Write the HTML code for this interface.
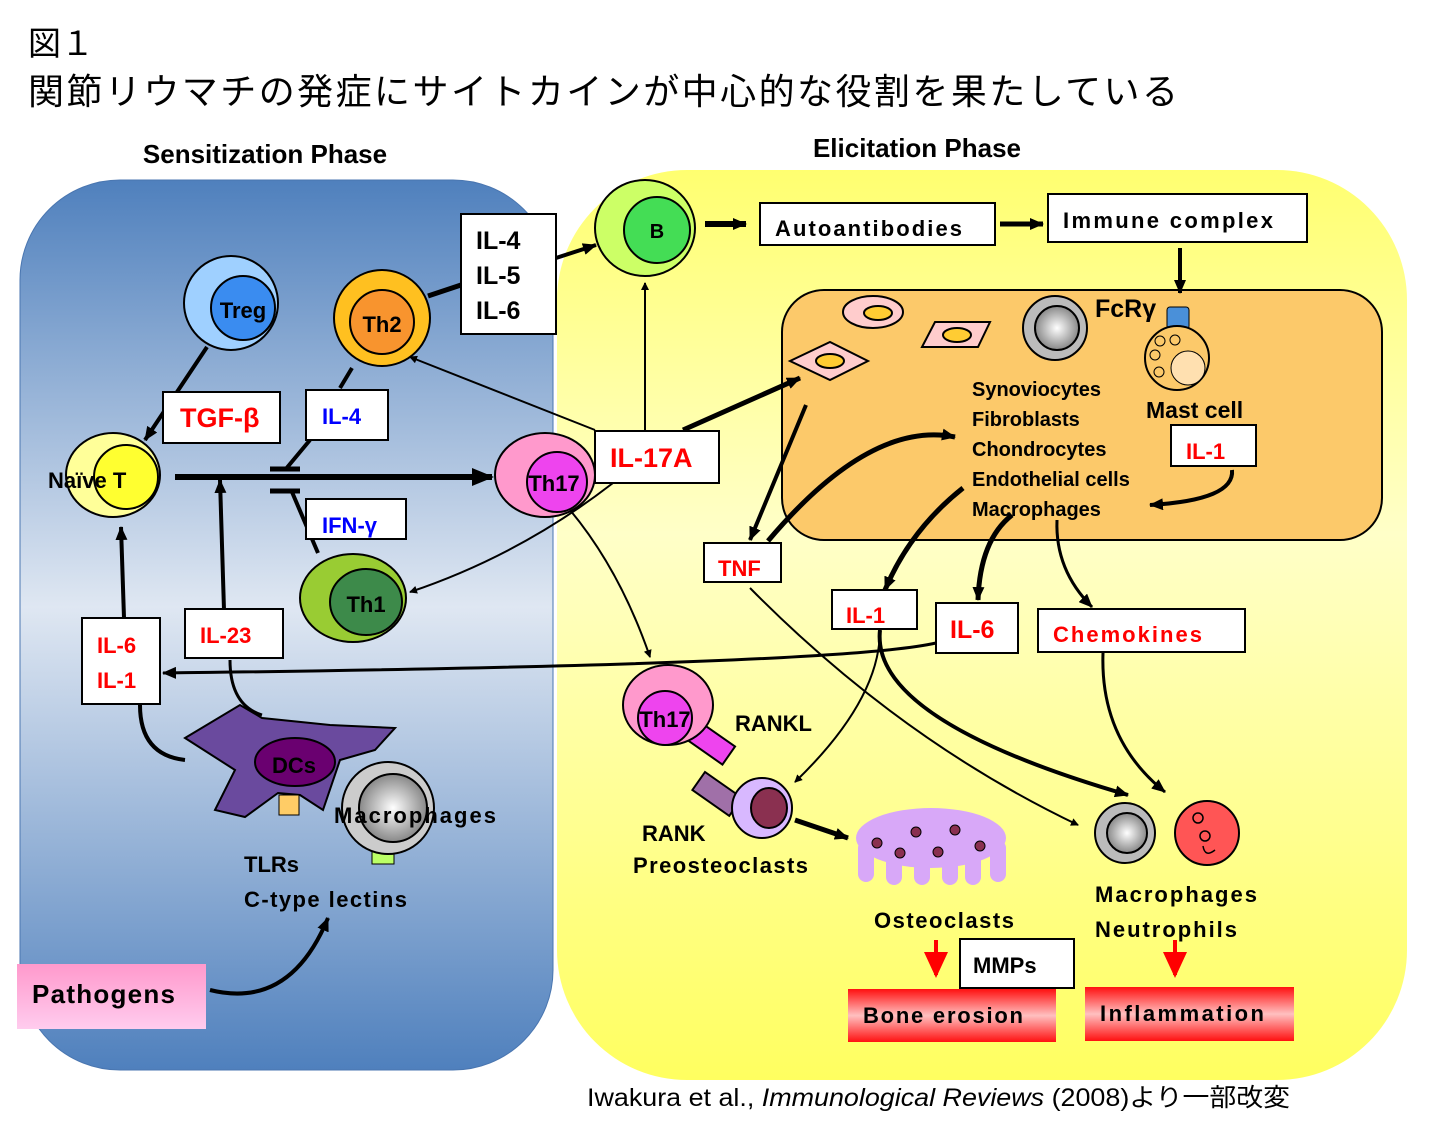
<!DOCTYPE html>
<html><head><meta charset="utf-8"><style>
body{margin:0;background:#fff}
svg{display:block}
text{font-family:"Liberation Sans","Noto Sans CJK JP",sans-serif;font-weight:bold}
</style></head><body>
<svg width="1432" height="1130" viewBox="0 0 1432 1130" xmlns="http://www.w3.org/2000/svg">
<defs>
<linearGradient id="bl" x1="0" y1="0" x2="0" y2="1"><stop offset="0" stop-color="#4f80bd"/><stop offset="0.48" stop-color="#dfe7f2"/><stop offset="1" stop-color="#4f80bd"/></linearGradient>
<linearGradient id="yl" x1="0" y1="0" x2="0" y2="1"><stop offset="0" stop-color="#ffff70"/><stop offset="0.4" stop-color="#ffffc8"/><stop offset="1" stop-color="#ffff60"/></linearGradient>
<linearGradient id="rd" x1="0" y1="0" x2="0" y2="1"><stop offset="0" stop-color="#ff1010"/><stop offset="0.5" stop-color="#ffc0c0"/><stop offset="1" stop-color="#ff1010"/></linearGradient>
<linearGradient id="pk" x1="0" y1="0" x2="0" y2="1"><stop offset="0" stop-color="#ff99cc"/><stop offset="1" stop-color="#ffccee"/></linearGradient>
<radialGradient id="gr"><stop offset="0" stop-color="#fff"/><stop offset="1" stop-color="#888"/></radialGradient>
<marker id="a" markerWidth="8" markerHeight="8" refX="7" refY="4" orient="auto" markerUnits="userSpaceOnUse"><path d="M0,0L8,4L0,8z"/></marker>
<marker id="A" markerWidth="22" markerHeight="18" refX="20" refY="9" orient="auto" markerUnits="userSpaceOnUse"><path d="M0,0L22,9L0,18z"/></marker>
<marker id="m" markerWidth="14" markerHeight="12" refX="13" refY="6" orient="auto" markerUnits="userSpaceOnUse"><path d="M0,0L14,6L0,12z"/></marker>
</defs>
<text x="28" y="55" font-size="33" style="font-weight:normal">図１</text>
<text x="28" y="104" font-size="36" textLength="1150" lengthAdjust="spacing" style="font-weight:normal">関節リウマチの発症にサイトカインが中心的な役割を果たしている</text>
<text x="265" y="163" font-size="26" text-anchor="middle">Sensitization Phase</text>
<text x="917" y="157" font-size="26" text-anchor="middle">Elicitation Phase</text>

<rect x="557" y="170" width="850" height="910" rx="130" fill="url(#yl)"/>
<rect x="20" y="180" width="533" height="890" rx="100" fill="url(#bl)" stroke="#4a76b0"/>
<rect x="782" y="290" width="600" height="250" rx="42" fill="#fcc96a" stroke="#000" stroke-width="2"/>

<g stroke="#000" fill="none">
<line x1="175" y1="477" x2="492" y2="477" stroke-width="6" marker-end="url(#A)"/>
<line x1="270" y1="469" x2="300" y2="469" stroke-width="5"/>
<line x1="270" y1="491" x2="300" y2="491" stroke-width="5"/>
<line x1="224" y1="610" x2="220" y2="480" stroke-width="4" marker-end="url(#m)"/>
<line x1="124" y1="618" x2="121" y2="527" stroke-width="4" marker-end="url(#m)"/>
<line x1="207" y1="347" x2="145" y2="440" stroke-width="4" marker-end="url(#m)"/>
<line x1="352" y1="368" x2="340" y2="388" stroke-width="4"/>
<line x1="310" y1="440" x2="285" y2="470" stroke-width="4"/>
<line x1="318" y1="553" x2="292" y2="492" stroke-width="4"/>
<line x1="428" y1="296" x2="461" y2="285" stroke-width="5"/>
<line x1="556" y1="258" x2="596" y2="245" stroke-width="4" marker-end="url(#m)"/>
<line x1="595" y1="430" x2="410" y2="357" stroke-width="2" marker-end="url(#a)"/>
<path d="M613,483 Q520,555 410,592" stroke-width="2" marker-end="url(#a)"/>
<line x1="645" y1="431" x2="645" y2="283" stroke-width="2" marker-end="url(#a)"/>
<line x1="683" y1="430" x2="800" y2="378" stroke-width="5" marker-end="url(#m)"/>
<path d="M570,510 Q620,570 650,657" stroke-width="2" marker-end="url(#a)"/>
<line x1="705" y1="224" x2="746" y2="224" stroke-width="6" marker-end="url(#m)"/>
<line x1="1000" y1="224" x2="1043" y2="224" stroke-width="5" marker-end="url(#m)"/>
<line x1="1180" y1="248" x2="1180" y2="293" stroke-width="4" marker-end="url(#m)"/>
<line x1="806" y1="405" x2="750" y2="540" stroke-width="4" marker-end="url(#m)"/>
<path d="M768,541 Q870,420 955,437" stroke-width="5" marker-end="url(#m)"/>
<path d="M963,488 Q910,530 885,590" stroke-width="5" marker-end="url(#m)"/>
<path d="M1012,515 Q980,540 978,600" stroke-width="5" marker-end="url(#m)"/>
<path d="M1057,520 Q1055,570 1092,607" stroke-width="3" marker-end="url(#m)"/>
<path d="M1232,470 Q1235,500 1150,505" stroke-width="4" marker-end="url(#m)"/>
<path d="M936,643 Q840,665 163,673" stroke-width="3" marker-end="url(#m)"/>
<path d="M880,630 Q880,700 795,782" stroke-width="2" marker-end="url(#a)"/>
<path d="M880,630 Q870,720 1128,795" stroke-width="4" marker-end="url(#m)"/>
<path d="M750,588 Q900,740 1078,825" stroke-width="2" marker-end="url(#a)"/>
<path d="M1103,653 Q1100,740 1165,792" stroke-width="3" marker-end="url(#m)"/>
<path d="M140,705 Q140,755 185,760" stroke-width="4"/>
<path d="M230,660 Q230,705 262,715" stroke-width="3"/>
<path d="M210,990 Q290,1010 328,918" stroke-width="4" marker-end="url(#m)"/>
<line x1="795" y1="820" x2="848" y2="838" stroke-width="5" marker-end="url(#m)"/>
</g>
<line x1="936" y1="940" x2="936" y2="975" stroke="#f00" stroke-width="4"/><path d="M924,952L948,952L936,978z" fill="#f00"/>
<line x1="1175" y1="940" x2="1175" y2="975" stroke="#f00" stroke-width="4"/><path d="M1163,952L1187,952L1175,978z" fill="#f00"/>

<g stroke="#000" stroke-width="2">
<circle cx="231" cy="303" r="47" fill="#9fd0ff"/><circle cx="243" cy="308" r="32" fill="#3a8cf0"/>
<circle cx="382" cy="318" r="48" fill="#ffc020"/><circle cx="382" cy="322" r="32" fill="#f8942e"/>
<ellipse cx="113" cy="475" rx="47" ry="42" fill="#ffff99"/><circle cx="126" cy="477" r="32" fill="#ffff30"/>
<ellipse cx="545" cy="475" rx="50" ry="42" fill="#ff99cc"/><circle cx="557" cy="482" r="30" fill="#ee44ee"/>
<ellipse cx="353" cy="598" rx="53" ry="44" fill="#9c3"/><ellipse cx="366" cy="602" rx="36" ry="33" fill="#3d8a4a"/>
<ellipse cx="645" cy="228" rx="50" ry="48" fill="#ccff66"/><circle cx="657" cy="230" r="33" fill="#44dd55"/>
<polygon points="185,738 240,705 262,718 330,725 395,728 375,750 340,760 323,810 300,795 278,793 245,817 215,810 235,770" fill="#6a4a9e"/>
<ellipse cx="295" cy="762" rx="40" ry="24" fill="#6a0070"/>
<rect x="279" y="795" width="20" height="20" fill="#fc6" stroke-width="1"/>
<rect x="372" y="850" width="22" height="14" fill="#bf6" stroke-width="1"/>
<circle cx="388" cy="808" r="46" fill="#ccc"/><circle cx="393" cy="808" r="34" fill="url(#gr)"/>
<ellipse cx="873" cy="312" rx="30" ry="16" fill="#fcc"/><ellipse cx="878" cy="313" rx="14" ry="7" fill="#fc3"/>
<polygon points="935,322 990,322 978,347 922,347" fill="#fcc"/><ellipse cx="957" cy="335" rx="14" ry="7" fill="#fc3"/>
<polygon points="790,361 830,342 868,361 830,380" fill="#fcc"/><ellipse cx="830" cy="361" rx="14" ry="7" fill="#fc3"/>
<circle cx="1055" cy="328" r="32" fill="#bbb"/><circle cx="1057" cy="328" r="22" fill="url(#gr)"/>
<rect x="1167" y="307" width="22" height="22" rx="3" fill="#4a90d9" stroke-width="1"/>
<circle cx="1177" cy="358" r="32" fill="#fcc96a"/>
<circle cx="1188" cy="368" r="17" fill="#ffe0b0" stroke-width="1"/>
<circle cx="1160" cy="341" r="5" fill="none" stroke-width="1"/><circle cx="1175" cy="340" r="5" fill="none" stroke-width="1"/>
<circle cx="1155" cy="355" r="5" fill="none" stroke-width="1"/><circle cx="1159" cy="372" r="5" fill="none" stroke-width="1"/>
<rect x="690" y="715" width="55" height="22" fill="#ee44ee" transform="rotate(35 690 715)"/>
<ellipse cx="668" cy="705" rx="45" ry="40" fill="#ff99cc"/><circle cx="665" cy="718" r="27" fill="#ee44ee"/>
<rect x="705" y="772" width="45" height="22" fill="#a070a8" transform="rotate(35 705 772)"/>
<ellipse cx="762" cy="808" rx="30" ry="30" fill="#d8b8ff"/><ellipse cx="769" cy="808" rx="18" ry="20" fill="#8a3050"/>
<circle cx="1125" cy="833" r="30" fill="#bbb"/><circle cx="1127" cy="833" r="20" fill="url(#gr)"/>
<circle cx="1207" cy="833" r="32" fill="#f55"/>
</g>
<g fill="#d8a8f8">
<ellipse cx="931" cy="838" rx="75" ry="30"/>
<rect x="858" y="840" width="16" height="42" rx="8"/><rect x="886" y="845" width="16" height="40" rx="8"/><rect x="914" y="845" width="16" height="40" rx="8"/><rect x="942" y="845" width="16" height="40" rx="8"/><rect x="965" y="845" width="16" height="40" rx="8"/><rect x="990" y="840" width="16" height="42" rx="8"/>
</g>
<g fill="#8a3050" stroke="#000"><circle cx="877" cy="843" r="5"/><circle cx="900" cy="853" r="5"/><circle cx="916" cy="832" r="5"/><circle cx="938" cy="852" r="5"/><circle cx="955" cy="830" r="5"/><circle cx="980" cy="846" r="5"/></g>
<g fill="none" stroke="#000" stroke-width="1.5"><circle cx="1198" cy="818" r="5"/><circle cx="1205" cy="836" r="5"/><path d="M1215,850 q-10,8 -12,-4"/></g>

<g fill="#fff" stroke="#000" stroke-width="2">
<rect x="461" y="214" width="95" height="120"/>
<rect x="163" y="392" width="117" height="51"/>
<rect x="306" y="390" width="82" height="50"/>
<rect x="306" y="499" width="100" height="40"/>
<rect x="595" y="431" width="124" height="52"/>
<rect x="82" y="618" width="78" height="86"/>
<rect x="185" y="609" width="98" height="49"/>
<rect x="760" y="203" width="235" height="42"/>
<rect x="1048" y="194" width="259" height="48"/>
<rect x="704" y="543" width="77" height="39"/>
<rect x="832" y="590" width="85" height="39"/>
<rect x="936" y="603" width="82" height="50"/>
<rect x="1038" y="609" width="207" height="43"/>
<rect x="1171" y="425" width="85" height="41"/>
<rect x="960" y="939" width="114" height="49"/>
</g>
<rect x="848" y="989" width="208" height="53" fill="url(#rd)"/>
<rect x="1085" y="987" width="209" height="54" fill="url(#rd)"/>
<rect x="17" y="964" width="189" height="65" fill="url(#pk)"/>

<g font-size="22">
<text x="243" y="318" text-anchor="middle">Treg</text>
<text x="382" y="332" text-anchor="middle">Th2</text>
<text x="48" y="488">Naïve T</text>
<text x="554" y="491" text-anchor="middle">Th17</text>
<text x="366" y="612" text-anchor="middle">Th1</text>
<text x="657" y="238" text-anchor="middle" font-size="20">B</text>
<text x="476" y="249" font-size="25">IL-4</text><text x="476" y="284" font-size="25">IL-5</text><text x="476" y="319" font-size="25">IL-6</text>
<text x="180" y="427" fill="#f00" font-size="27">TGF-β</text>
<text x="322" y="424" fill="#00f">IL-4</text>
<text x="322" y="533" fill="#00f">IFN-γ</text>
<text x="610" y="467" fill="#f00" font-size="27">IL-17A</text>
<text x="97" y="653" fill="#f00">IL-6</text><text x="97" y="688" fill="#f00">IL-1</text>
<text x="200" y="643" fill="#f00">IL-23</text>
<text x="775" y="236" textLength="187">Autoantibodies</text>
<text x="1063" y="228" textLength="210">Immune complex</text>
<text x="1095" y="317" font-size="25">FcRγ</text>
<text x="972" y="396" font-size="20">Synoviocytes</text>
<text x="972" y="426" font-size="20">Fibroblasts</text>
<text x="972" y="456" font-size="20">Chondrocytes</text>
<text x="972" y="486" font-size="20">Endothelial cells</text>
<text x="972" y="516" font-size="20">Macrophages</text>
<text x="1146" y="418" font-size="23">Mast cell</text>
<text x="1186" y="459" fill="#f00">IL-1</text>
<text x="718" y="576" fill="#f00">TNF</text>
<text x="846" y="623" fill="#f00">IL-1</text>
<text x="950" y="638" fill="#f00" font-size="25">IL-6</text>
<text x="1053" y="642" fill="#f00" textLength="149">Chemokines</text>
<text x="665" y="727" text-anchor="middle">Th17</text>
<text x="735" y="731">RANKL</text>
<text x="642" y="841">RANK</text>
<text x="633" y="873" textLength="175">Preosteoclasts</text>
<text x="874" y="928" textLength="140">Osteoclasts</text>
<text x="1095" y="902" textLength="162">Macrophages</text>
<text x="1095" y="937" textLength="142">Neutrophils</text>
<text x="973" y="973">MMPs</text>
<text x="863" y="1023" textLength="160">Bone erosion</text>
<text x="1100" y="1021" textLength="164">Inflammation</text>
<text x="294" y="773" text-anchor="middle">DCs</text>
<text x="334" y="823" textLength="162">Macrophages</text>
<text x="244" y="872">TLRs</text>
<text x="244" y="907" textLength="163">C-type lectins</text>
<text x="32" y="1003" font-size="26" textLength="143">Pathogens</text>
</g>
<text x="587" y="1106" font-size="25" textLength="703" lengthAdjust="spacingAndGlyphs" style="font-weight:normal">Iwakura et al., <tspan font-style="italic">Immunological Reviews</tspan> (2008)より一部改変</text>
</svg>
</body></html>
